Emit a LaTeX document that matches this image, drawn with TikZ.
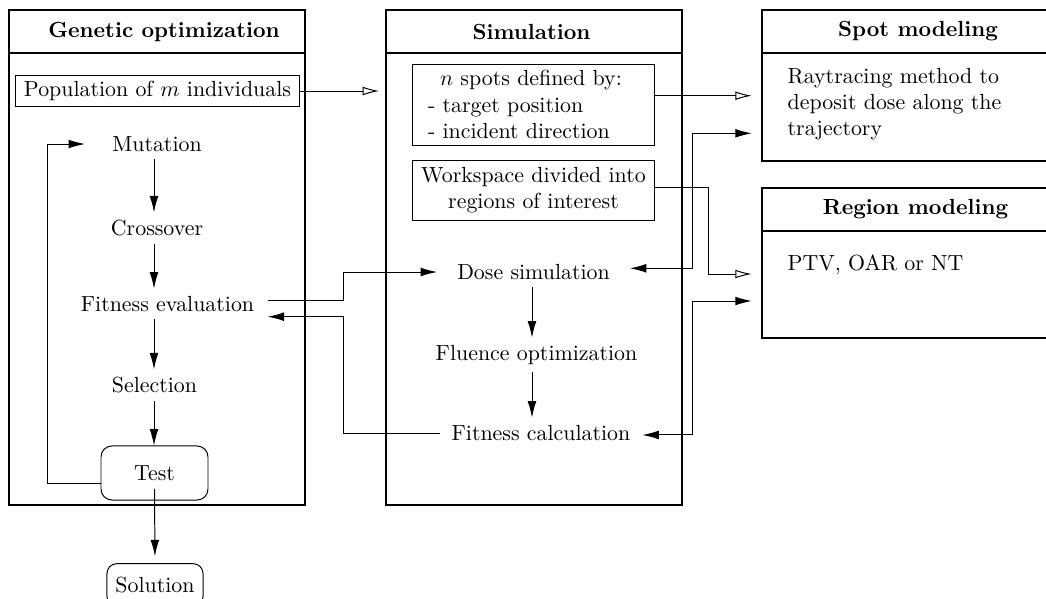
\documentclass[tikz,border=0pt]{standalone}
\usetikzlibrary{arrows.meta,fit,calc}
\begin{document}
\begin{tikzpicture}[x=0.457pt,y=-0.457pt,
  outer/.style={draw, line width=0.9pt, inner sep=0pt},
  hdr/.style={line width=0.9pt},
  ttl/.style={font=\bfseries},
  inbox/.style={draw, line width=0.45pt},
  conn/.style={line width=0.45pt},
  arr/.style={conn, -{Latex[length=7.5pt,width=4pt]}},
  oarr/.style={conn, -{Latex[open,length=7.5pt,width=4pt]}},
  dbl/.style={conn, {Latex[length=7.5pt,width=4pt]}-{Latex[length=7.5pt,width=4pt]}},
  rbox/.style={draw, line width=0.45pt, rounded corners=5pt}]
\useasboundingbox (0,0) rectangle (1046,598);
\clip (0,0) rectangle (1046,598);

% frames
\coordinate (g1) at (9,10);    \coordinate (g2) at (305,505);
\coordinate (s1) at (386,10);  \coordinate (s2) at (682,505);
\coordinate (p1) at (762,10);  \coordinate (p2) at (1080,161);
\coordinate (r1) at (762,188); \coordinate (r2) at (1080,338);
\node[outer, fit=(g1)(g2)] (gen) {};
\node[outer, fit=(s1)(s2)] (sim) {};
\node[outer, fit=(p1)(p2)] (spot) {};
\node[outer, fit=(r1)(r2)] (reg) {};
\coordinate (gh) at (0,53);
\coordinate (rh) at (0,231);
\draw[hdr] (gen.west |- gh) -- (gen.east |- gh);
\draw[hdr] (sim.west |- gh) -- (sim.east |- gh);
\draw[hdr] (spot.west |- gh) -- (spot.east |- gh);
\draw[hdr] (reg.west |- rh) -- (reg.east |- rh);

% titles
\node[ttl] (gent) at (164,31.5) {Genetic optimization};
\node[ttl] (simt) at (531.5,31.5) {Simulation};
\node[ttl] (spott) at (918,31.5) {Spot modeling};
\node[ttl] (regt) at (915.5,209.5) {Region modeling};

% left column
\node[inbox, minimum width=130.2pt, minimum height=14.6pt, inner sep=2pt] (pop) at (157.5,91) {Population of $m$ individuals};
\node[inner xsep=12.3pt] (mut) at (157,144) {Mutation};
\node (cross) at (157,228) {Crossover};
\node[inner xsep=6pt] (fiteval) at (167.5,304) {Fitness evaluation};
\node (sel) at (154.5,385) {Selection};
\node[rbox, minimum width=48.9pt, minimum height=24.7pt] (test) at (154.5,473) {Test};
\node[rbox, rounded corners=4.5pt, minimum width=43.9pt, minimum height=19.5pt] (sol) at (155,585) {Solution};

\coordinate (lc) at (154,0);
\draw[arr] (lc |- mut.south) -- (lc |- cross.north);
\draw[arr] (lc |- cross.south) -- (lc |- fiteval.north);
\draw[arr] (lc |- fiteval.south) -- (lc |- sel.north);
\draw[arr] (lc |- sel.south) -- (lc |- test.north);
\draw[arr, shorten >=3.2pt] ([yshift=-7.3pt]test.center) -- (sol.north);
\coordinate (fb) at (47,0);
\draw[arr] ([yshift=-4.6pt]test.west) -| (fb |- mut.west) -- (mut.west);

% middle column
\node[inbox, text width=96.4pt, inner xsep=7.3pt, inner ysep=0pt, minimum height=37pt, align=left] (nspots) at (533.5,104.5)
  {\hspace*{5.5pt}$n$ spots defined by:\\- target position\\- incident direction};
\node[inbox, minimum width=111pt, minimum height=27pt, align=center] (work) at (533.5,190.5)
  {Workspace divided into\\regions of interest};
\node[inner xsep=9pt] (dose) at (533.5,272) {Dose simulation};
\node (flu) at (536.5,355) {Fluence optimization};
\node[inner xsep=5.3pt] (fitcalc) at (541,433) {Fitness calculation};
\coordinate (mc) at (532,0);
\draw[arr] (mc |- dose.south) -- (mc |- flu.north);
\draw[arr] (mc |- flu.south) -- (mc |- fitcalc.north);

% right texts
\node[anchor=west, align=left] (spottxt) at (780,104) {Raytracing method to\\deposit dose along the\\trajectory};
\node[anchor=west] (regtxt) at (780,265) {PTV, OAR or NT};

% connectors
\draw[oarr, shorten >=2.7pt] (pop.east) -- (pop.east -| sim.west);
\coordinate (vx) at (343,0);
\coordinate (fe1) at ([yshift=1.8pt]fiteval.east);
\coordinate (fe2) at ([yshift=-5.8pt]fiteval.east);
\draw[arr] (fe1) -| (vx |- dose.west) -- (dose.west);
\draw[arr] (fitcalc.west) -| (vx |- fe2) -- (fe2);

\coordinate (vr) at (692.3,0);
\coordinate (vw) at (708.3,0);
\coordinate (sp1) at (751.7,95.7);
\coordinate (sp2) at (751.7,133.3);
\coordinate (rg1) at (751.7,274);
\coordinate (rg2) at (751.7,301);
\draw[oarr] (nspots.east |- sp1) -- (sp1);
\draw[dbl] ([yshift=1.7pt]dose.east) -| (vr |- sp2) -- (sp2);
\draw[oarr] ([yshift=1.5pt]work.east) -| (vw |- rg1) -- (rg1);
\draw[dbl] ([yshift=-0.9pt]fitcalc.east) -| (vr |- rg2) -- (rg2);
\end{tikzpicture}
\end{document}
